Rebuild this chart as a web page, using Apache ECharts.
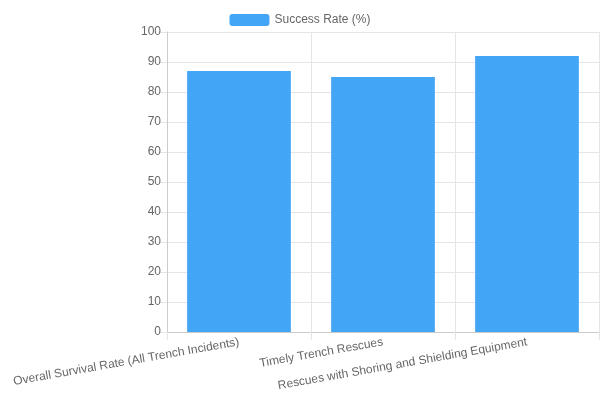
<!DOCTYPE html>
<html><head><meta charset="utf-8">
<script src="https://cdn.jsdelivr.net/npm/echarts@6/dist/echarts.min.js"></script>
<style>html,body{margin:0;padding:0;background:#fff}#c{width:600px;height:400px}</style>
</head><body><div id="c"></div>
<script>
const categories = ["Overall Survival Rate (All Trench Incidents)", "Timely Trench Rescues", "Rescues with Shoring and Shielding Equipment"];
const successRate = [87, 85, 92];
const seriesName = "Success Rate (%)";
const chart = echarts.init(document.getElementById('c'));
chart.setOption({
  animation: false,
  textStyle: {fontFamily: 'Liberation Sans, Arial, sans-serif'},
  legend: {top: 9, left: 'center', itemWidth: 40, itemHeight: 12, itemGap: 6,
    textStyle: {color: '#666', fontSize: 12}, data: [seriesName]},
  grid: {left: 167, right: 1, top: 32, bottom: 68, containLabel: false},
  xAxis: {type: 'category', data: categories,
    axisLine: {lineStyle: {color: '#ccc'}}, axisTick: {show: true, length: 8, lineStyle: {color: '#e5e5e5'}},
    splitLine: {show: true, lineStyle: {color: '#e5e5e5'}},
    axisLabel: {rotate: 10, color: '#666', fontSize: 12, interval: 0, margin: 10}},
  yAxis: {type: 'value', min: 0, max: 100, interval: 10,
    axisLine: {show: true, lineStyle: {color: '#ccc'}}, axisTick: {show: true, length: 8, lineStyle: {color: '#e5e5e5'}},
    splitLine: {lineStyle: {color: '#e5e5e5'}},
    axisLabel: {color: '#666', fontSize: 12, margin: 6}},
  series: [{name: seriesName, type: 'bar', data: successRate, barCategoryGap: '28%',
    itemStyle: {color: '#42a5f5'}}]
});
</script></body></html>
